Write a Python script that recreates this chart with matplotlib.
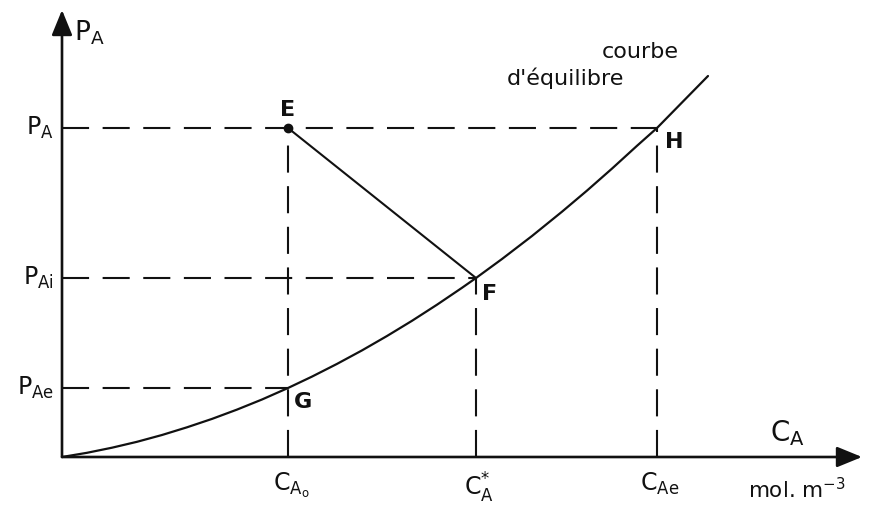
import matplotlib.pyplot as plt

plt.rcParams['font.family'] = ['DejaVu Sans']
plt.rcParams['mathtext.default'] = 'regular'

# concentrations on the x axis (arbitrary units)
c_a0 = 2.26
c_a_star = 4.14
c_ae = 5.95

# partial pressures on the y axis (arbitrary units)
p_a = 3.29
p_ai = 1.79
p_ae = 0.69

# equilibrium curve, points
curve_c = [0.0, 0.25, 0.5, 0.75, 1.0, 1.25, 1.5, 1.75, 2.0, 2.26, 2.5, 2.75, 3.0,
           3.25, 3.5, 3.75, 4.0, 4.14, 4.4, 4.7, 5.0, 5.25, 5.5, 5.75, 5.95, 6.2, 6.46]
curve_p = [0.0, 0.042, 0.093, 0.152, 0.220, 0.297, 0.381, 0.474, 0.575, 0.69, 0.804,
           0.931, 1.066, 1.210, 1.362, 1.523, 1.692, 1.79, 1.98, 2.21, 2.453, 2.664,
           2.884, 3.112, 3.29, 3.545, 3.81]

x_tick_labels = ['$C_{A_o}$', '$C_A^{*}$', '$C_{Ae}$']
y_tick_labels = ['$P_A$', '$P_{Ai}$', '$P_{Ae}$']

fig = plt.figure(figsize=(8.74, 5.07), dpi=100)
ax = fig.add_axes([0, 0, 1, 1])
ax.set_xlim(-0.62, 8.12)
ax.set_ylim(-0.50, 4.57)
ax.axis('off')

ink = '#111111'

# axes with arrow heads
ax.annotate('', xy=(8.00, 0), xytext=(0, 0),
            arrowprops=dict(arrowstyle='-|>,head_length=1.1,head_width=0.45',
                            color=ink, lw=1.9, mutation_scale=14, shrinkA=0, shrinkB=0))
ax.annotate('', xy=(0, 4.47), xytext=(0, 0),
            arrowprops=dict(arrowstyle='-|>,head_length=1.1,head_width=0.45',
                            color=ink, lw=1.9, mutation_scale=14, shrinkA=0, shrinkB=0))

dash = (0, (13, 6.5))
dlw = 1.5

# dashed construction lines
ax.plot([0, c_ae], [p_a, p_a], color=ink, lw=dlw, ls=dash)
ax.plot([0, c_a_star], [p_ai, p_ai], color=ink, lw=dlw, ls=dash)
ax.plot([0, c_a0], [p_ae, p_ae], color=ink, lw=dlw, ls=dash)
ax.plot([c_a0, c_a0], [0, p_a], color=ink, lw=dlw, ls=dash)
ax.plot([c_a_star, c_a_star], [0, p_ai], color=ink, lw=dlw, ls=dash)
ax.plot([c_ae, c_ae], [0, p_a], color=ink, lw=dlw, ls=dash)

# equilibrium curve and operating line E-F
ax.plot(curve_c, curve_p, color=ink, lw=1.6, solid_capstyle='round', solid_joinstyle='round')
ax.plot([c_a0, c_a_star], [p_a, p_ai], color=ink, lw=1.5)
ax.plot([c_a0], [p_a], 'o', color=ink, ms=6)

# point labels
pt_font = dict(fontsize=16, fontweight='bold', color=ink)
ax.text(c_a0, p_a + 0.08, 'E', ha='center', va='bottom', **pt_font)
ax.text(c_a_star + 0.06, p_ai - 0.06, 'F', ha='left', va='top', **pt_font)
ax.text(c_a0 + 0.06, p_ae - 0.04, 'G', ha='left', va='top', **pt_font)
ax.text(c_ae + 0.08, p_a - 0.04, 'H', ha='left', va='top', **pt_font)

# tick labels
for c, lab in zip([c_a0, c_a_star, c_ae], x_tick_labels):
    ax.text(c + 0.03, -0.14, lab, ha='center', va='top', fontsize=17, color=ink)
for p, lab in zip([p_a, p_ai, p_ae], y_tick_labels):
    ax.text(-0.08, p, lab, ha='right', va='center', fontsize=17, color=ink)

# axis titles
ax.text(0.12, 4.24, '$P_A$', ha='left', va='center', fontsize=19, color=ink)
ax.text(7.08, 0.24, '$C_A$', ha='left', va='center', fontsize=20, color=ink)
ax.text(6.86, -0.33, 'mol. m$^{-3}$', ha='left', va='center', fontsize=15.5, color=ink)

ax.text(5.78, 4.05, 'courbe', ha='center', va='center', fontsize=16, color=ink)
ax.text(5.03, 3.79, "d'équilibre", ha='center', va='center', fontsize=16, color=ink)

fig.savefig('out.png', dpi=100, facecolor='white')
